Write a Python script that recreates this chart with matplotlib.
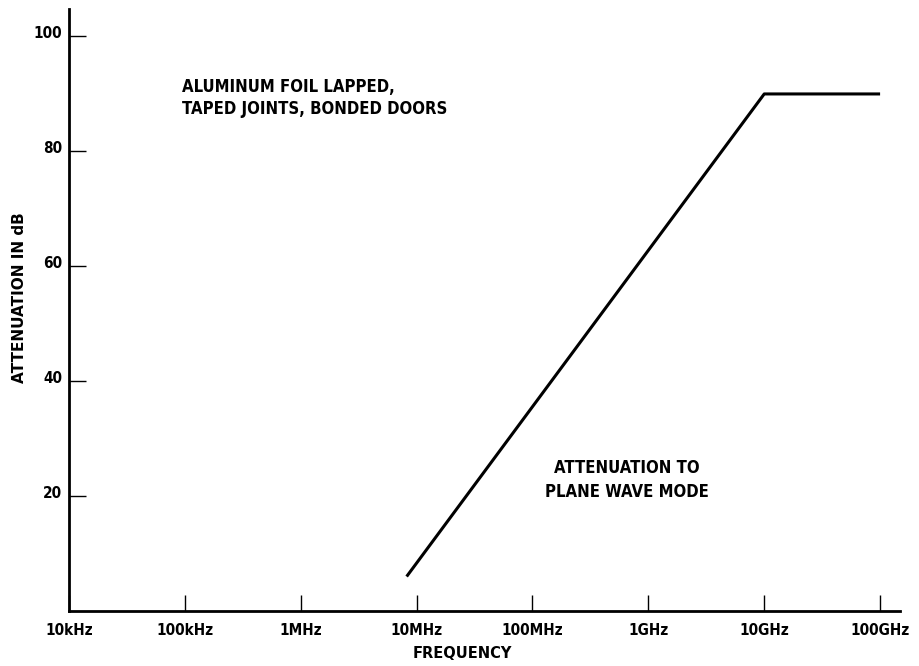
import matplotlib.pyplot as plt
import matplotlib.ticker as ticker
import matplotlib.transforms as mtransforms

# data
freq_hz = [8.2e6, 1e10, 1e11]
atten_db = [6, 90, 90]

tick_freqs = [1e4, 1e5, 1e6, 1e7, 1e8, 1e9, 1e10, 1e11]
tick_labels = ["10kHz", "100kHz", "1MHz", "10MHz", "100MHz", "1GHz", "10GHz", "100GHz"]
y_ticks = [20, 40, 60, 80, 100]

plt.rcParams["font.family"] = ["DejaVu Sans"]
plt.rcParams["font.stretch"] = "condensed"
plt.rcParams["font.weight"] = "bold"

fig = plt.figure(figsize=(9.19, 6.66), dpi=100)
ax = fig.add_axes([0.0751, 0.0826, 0.904, 0.904])

ax.plot(freq_hz, atten_db, color="black", linewidth=2.2, solid_capstyle="butt")

ax.set_xscale("log")
ax.set_xlim(1e4, 10 ** 11.17)
ax.set_ylim(0, 104.8)

ax.set_xticks(tick_freqs)
ax.set_xticklabels(tick_labels)
ax.xaxis.set_minor_locator(ticker.NullLocator())
ax.set_yticks(y_ticks)

ax.tick_params(axis="x", direction="in", length=11.5, width=1.0, pad=9, labelsize=11)
ax.tick_params(axis="y", direction="in", length=12, width=1.0, pad=5, labelsize=11)

# y tick labels sit a little above their ticks in the original
shift = mtransforms.ScaledTranslation(0, 3 / 72, fig.dpi_scale_trans)
for lab in ax.get_yticklabels():
    lab.set_transform(lab.get_transform() + shift)

for side in ["top", "right"]:
    ax.spines[side].set_visible(False)
for side in ["left", "bottom"]:
    ax.spines[side].set_linewidth(2)

ax.set_xlabel("FREQUENCY", fontsize=10.5, fontweight="bold", fontstretch="normal")
ax.xaxis.set_label_coords(0.474, -0.058)
ax.set_ylabel("ATTENUATION IN dB", fontsize=11, fontweight="bold",
              fontstretch="normal", va="center")
ax.yaxis.set_label_coords(-0.060, 0.52)

ax.text(0.136, 0.885, "ALUMINUM FOIL LAPPED,\nTAPED JOINTS, BONDED DOORS",
        transform=ax.transAxes, fontsize=12, fontweight="bold",
        ha="left", va="top", linespacing=1.3)
ax.text(0.6715, 0.252, "ATTENUATION TO\nPLANE WAVE MODE",
        transform=ax.transAxes, fontsize=12, fontweight="bold",
        ha="center", va="top", linespacing=1.4)

fig.savefig("out.png", dpi=100)
